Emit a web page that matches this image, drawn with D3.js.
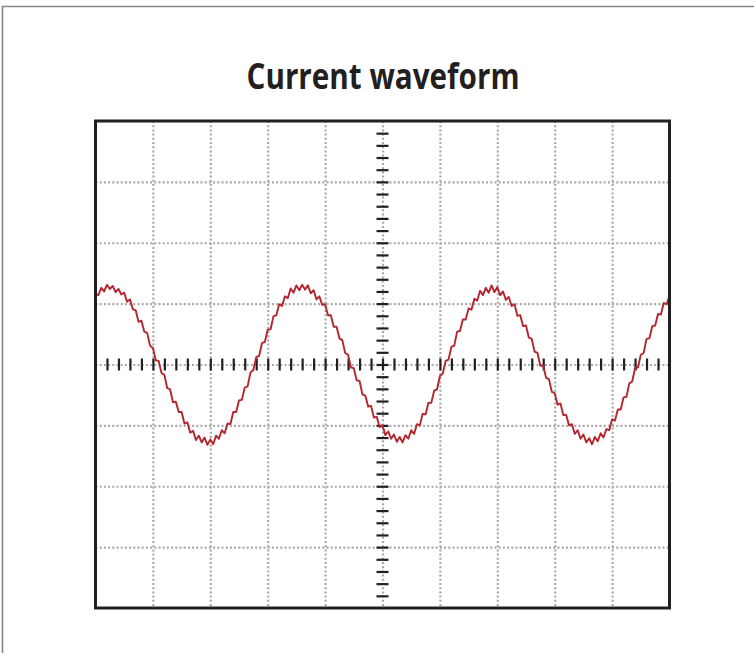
<!DOCTYPE html>
<html>
<head>
<meta charset="utf-8">
<script src="https://cdn.jsdelivr.net/npm/d3@7"></script>
<style>
  html, body { margin: 0; padding: 0; background: #fff; }
  svg { display: block; }
</style>
</head>
<body>
<div id="chart"></div>
<script>
// screen: 10 x 8 divisions, trace sampled every 0.05 div
var divisionsX = [1, 2, 3, 4, 5, 6, 7, 8, 9];
var divisionsY = [-3, -2, -1, 0, 1, 2, 3];
var sampleStep = 0.05;
var chartTitle = "Current waveform";

// current trace (in divisions), incl. the noise
var current = [
  1.16, 1.14, 1.26, 1.20, 1.31, 1.24, 1.29, 1.19, 1.24, 1.15,
  1.18, 1.03, 1.07, 0.91, 0.89, 0.70, 0.72, 0.54, 0.52, 0.31,
  0.27, 0.07, 0.06, -0.14, -0.17, -0.39, -0.41, -0.62, -0.61, -0.78,
  -0.78, -0.97, -0.95, -1.12, -1.09, -1.24, -1.17, -1.28, -1.20, -1.32,
  -1.23, -1.31, -1.17, -1.22, -1.08, -1.13, -0.97, -0.98, -0.78, -0.78,
  -0.59, -0.58, -0.38, -0.36, -0.13, -0.09, 0.12, 0.14, 0.35, 0.37,
  0.57, 0.58, 0.79, 0.81, 0.99, 0.96, 1.12, 1.09, 1.25, 1.18,
  1.30, 1.22, 1.31, 1.23, 1.30, 1.17, 1.22, 1.07, 1.12, 0.98,
  0.99, 0.81, 0.81, 0.62, 0.62, 0.43, 0.40, 0.19, 0.16, -0.05,
  -0.06, -0.26, -0.27, -0.49, -0.51, -0.69, -0.68, -0.87, -0.86, -1.03,
  -1.00, -1.16, -1.10, -1.22, -1.15, -1.27, -1.19, -1.28, -1.16, -1.22,
  -1.08, -1.14, -0.98, -1.00, -0.81, -0.82, -0.63, -0.63, -0.43, -0.41,
  -0.19, -0.15, 0.06, 0.08, 0.29, 0.31, 0.54, 0.55, 0.74, 0.74,
  0.92, 0.90, 1.08, 1.05, 1.21, 1.14, 1.26, 1.18, 1.30, 1.19,
  1.27, 1.14, 1.20, 1.06, 1.11, 0.96, 0.99, 0.80, 0.81, 0.63,
  0.64, 0.44, 0.42, 0.21, 0.19, -0.02, -0.02, -0.22, -0.24, -0.45,
  -0.47, -0.66, -0.64, -0.83, -0.83, -1.00, -0.98, -1.14, -1.08, -1.22,
  -1.15, -1.28, -1.21, -1.31, -1.19, -1.26, -1.13, -1.20, -1.06, -1.08,
  -0.90, -0.92, -0.74, -0.74, -0.54, -0.53, -0.31, -0.28, -0.06, -0.05,
  0.16, 0.19, 0.42, 0.43, 0.63, 0.64, 0.83, 0.82, 1.01, 0.99,
  1.13
];

var svgWidth = 754, svgHeight = 653;
var box = {left: 95.5, right: 669.5, top: 121, bottom: 608};
var gridColor = "#a9a9a9", inkColor = "#231f20", traceColor = "#b5252d";

var svg = d3.select("#chart").append("svg")
    .attr("width", svgWidth)
    .attr("height", svgHeight);

// page frame (only top and left edges show)
svg.append("path")
    .attr("d", "M2.5," + (svgHeight + 5) + "V6.5H" + (svgWidth + 5))
    .attr("fill", "none")
    .attr("stroke", "#858585")
    .attr("stroke-width", 1.6);

svg.append("text")
    .attr("x", 383)
    .attr("y", 89)
    .attr("text-anchor", "middle")
    .attr("font-family", "'Open Sans', 'Noto Sans', sans-serif")
    .attr("font-weight", "bold")
    .attr("font-size", 36)
    .attr("fill", inkColor)
    .attr("textLength", 273)
    .attr("lengthAdjust", "spacingAndGlyphs")
    .text(chartTitle);

var xScale = d3.scaleLinear().domain([0, 10]).range([box.left, box.right]);
var yScale = d3.scaleLinear().domain([-4, 4]).range([box.bottom, box.top]);

var plotGroup = svg.append("g");

// dotted graticule
var gridX = plotGroup.append("g")
    .attr("transform", `translate(0, ${box.top})`)
    .call(d3.axisBottom(xScale).tickValues(divisionsX).tickSize(box.bottom - box.top).tickFormat(""));
var gridY = plotGroup.append("g")
    .attr("transform", `translate(${box.left}, 0)`)
    .call(d3.axisRight(yScale).tickValues(divisionsY).tickSize(box.right - box.left).tickFormat(""));
[gridX, gridY].forEach(function(g){
    g.select(".domain").remove();
    g.selectAll("line")
        .attr("stroke", gridColor)
        .attr("stroke-width", 2.2)
        .attr("stroke-dasharray", "2,2.2");
});

// centre axes with minor ticks every 0.2 div
var tickLen = 12;
var minorX = d3.range(0.2, 9.9, 0.2);
var minorY = d3.range(-3.8, 3.9, 0.2);
var centreX = plotGroup.append("g")
    .attr("transform", `translate(0, ${yScale(0) - tickLen / 2})`)
    .call(d3.axisBottom(xScale).tickValues(minorX).tickSize(tickLen).tickFormat(""));
var centreY = plotGroup.append("g")
    .attr("transform", `translate(${xScale(5) - tickLen / 2}, 0)`)
    .call(d3.axisRight(yScale).tickValues(minorY).tickSize(tickLen).tickFormat(""));
[centreX, centreY].forEach(function(g){
    g.select(".domain").remove();
    g.selectAll("line")
        .attr("stroke", inkColor)
        .attr("stroke-width", 2.2);
});

// trace
var line = d3.line()
    .x((d, i) => xScale(i * sampleStep))
    .y(d => yScale(d));

plotGroup.append("path")
    .datum(current)
    .attr("d", line)
    .attr("fill", "none")
    .attr("stroke", traceColor)
    .attr("stroke-width", 1.9)
    .attr("stroke-linejoin", "round");

// screen border
plotGroup.append("rect")
    .attr("x", box.left)
    .attr("y", box.top)
    .attr("width", box.right - box.left)
    .attr("height", box.bottom - box.top)
    .attr("fill", "none")
    .attr("stroke", inkColor)
    .attr("stroke-width", 3);
</script>
</body>
</html>
